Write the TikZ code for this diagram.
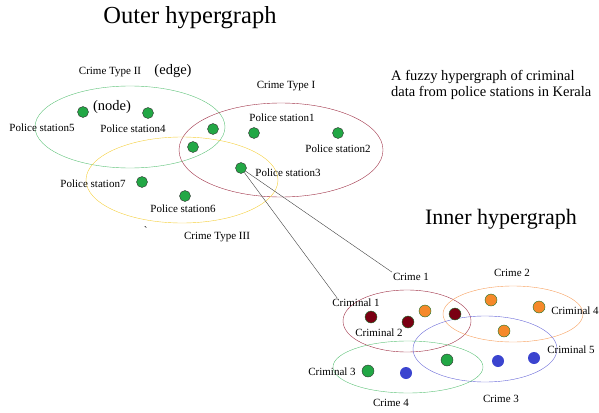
\documentclass[tikz,border=0pt]{standalone}
\usepackage{fontspec}
\setmainfont{Liberation Serif}
\definecolor{nodegreen}{HTML}{22A745}
\definecolor{edgegreen}{HTML}{5CC277}
\definecolor{edgered}{HTML}{9E2F45}
\definecolor{edgeyellow}{HTML}{F4CF3C}
\definecolor{edgeorange}{HTML}{F7A05E}
\definecolor{edgeblue}{HTML}{6A6AD8}
\definecolor{crimred}{HTML}{7A0012}
\definecolor{crimorange}{HTML}{F5892A}
\definecolor{crimblue}{HTML}{3B44CF}
\begin{document}
\begin{tikzpicture}[x=1pt,y=-1pt]

      \tikzset{enclosed/.style={draw=black!80, circle, inner sep=0pt, minimum size=11pt, fill=nodegreen}}
      \tikzset{crim/.style={draw=nodegreen!70!black, circle, inner sep=0pt, minimum size=12pt}}
      \tikzset{tag/.style={font=\fontsize{11}{12}\selectfont, inner sep=1pt}}
      \useasboundingbox (0,0) rectangle (599,412);
%% Titles
	\node[font=\fontsize{24.5}{26}\selectfont] (outer) at (190,18) {Outer hypergraph};
	\node[font=\fontsize{22}{24}\selectfont] (inner) at (501,219) {Inner hypergraph};
	\node[font=\fontsize{14.5}{16}\selectfont, anchor=west, align=left, inner sep=0pt] (title) at (391,85) {A fuzzy hypergraph of criminal\\data from police stations in Kerala};
%% Outer hyperedges
	\draw[edgegreen] (130,127) ellipse (95 and 41);
	\draw[edgered] (281,150) ellipse (102 and 47);
	\draw[edgeyellow] (182,180) ellipse (96 and 43);
	\node[tag] (typetwo) at (110,72) {Crime Type II};
	\node[font=\fontsize{14.5}{16}\selectfont, inner sep=0pt] (edge) at (173,71) {(edge)};
	\node[tag] (typeone) at (286,86) {Crime Type I};
	\node[tag] (typethree) at (217,237) {Crime Type III};
	\node[tag] (tick) at (146,232) {\`{}};
%% Police stations
	\node[enclosed] (ps5) at (83,112) {};
	\node[enclosed] (ps4) at (148,113) {};
	\node[enclosed] (p12) at (213,129) {};
	\node[enclosed] (p13) at (193,147) {};
	\node[enclosed] (ps1) at (254,133) {};
	\node[enclosed] (ps2) at (338,133) {};
	\node[enclosed] (ps3) at (241,168) {};
	\node[enclosed] (ps7) at (142,182) {};
	\node[enclosed] (ps6) at (185,196) {};
	\node[font=\fontsize{14.5}{16}\selectfont, inner sep=0pt] (nodetag) at (112,107) {(node)};
	\node[tag] (ps5l) at (42,128) {Police station5};
	\node[tag] (ps4l) at (133,129) {Police station4};
	\node[tag] (ps1l) at (282,118) {Police station1};
	\node[tag] (ps2l) at (338,149) {Police station2};
	\node[tag] (ps3l) at (288,173) {Police station3};
	\node[tag] (ps7l) at (93,184) {Police station7};
	\node[tag] (ps6l) at (183,209) {Police station6};
%% Inner hyperedges
	\draw[edgered] (407,321) ellipse (64 and 31);
	\draw[edgeorange] (513,314) ellipse (70 and 28);
	\draw[edgeblue] (485,349) ellipse (72 and 33);
	\draw[edgegreen] (408,367) ellipse (75 and 26);
	\node[tag] (crime1) at (411,277) {Crime 1};
	\node[tag] (crime2) at (512,273) {Crime 2};
	\node[tag] (crime3) at (501,399) {Crime 3};
	\node[tag] (crime4) at (391,403) {Crime 4};
%% Criminals
	\node[crim, fill=crimred] (c1) at (371,317) {};
	\node[crim, fill=crimred] (c2) at (408,322) {};
	\node[crim, fill=crimred] (c12) at (455,314) {};
	\node[crim, fill=crimorange] (c13) at (425,311) {};
	\node[crim, fill=crimorange] (c21) at (491,300) {};
	\node[crim, fill=crimorange] (c4) at (539,307) {};
	\node[crim, fill=crimorange] (c23) at (504,331) {};
	\node[crim, fill=crimblue, draw=none] (c31) at (406,373) {};
	\node[crim, fill=crimblue, draw=none] (c32) at (498,361) {};
	\node[crim, fill=crimblue, draw=none] (c5) at (534,358) {};
	\node[enclosed, minimum size=12pt] (c33) at (447,360) {};
	\node[enclosed, minimum size=12pt] (c3) at (368,371) {};
	\node[tag] (c1l) at (356,303) {Criminal 1};
	\node[tag] (c2l) at (379,333) {Criminal 2};
	\node[tag] (c3l) at (332,372) {Criminal 3};
	\node[tag] (c4l) at (575,311) {Criminal 4};
	\node[tag] (c5l) at (571,350) {Criminal 5};
%Edges
	\draw[black!75] (ps3) -- (crime1.north west);
	\draw[black!75] (ps3) -- ([xshift=6pt]c1l.north west);

	\end{tikzpicture}
\end{document}
